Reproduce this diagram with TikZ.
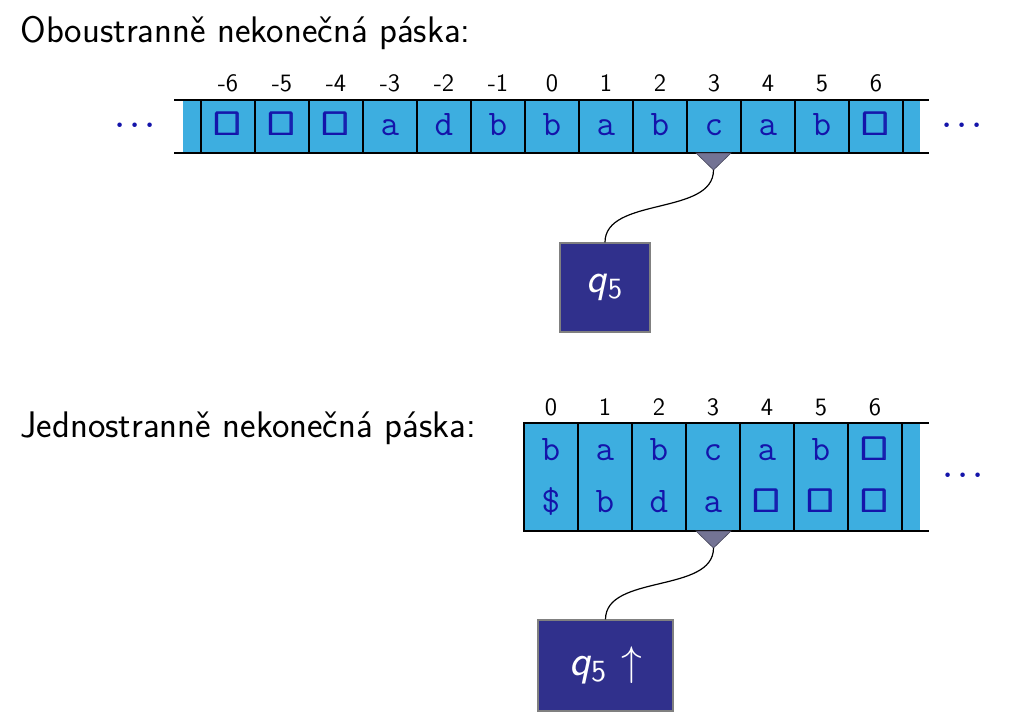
\documentclass[tikz,border=0pt]{standalone}
\usepackage{amssymb}
\usepackage{amsmath}
\usepackage{fontspec}
\definecolor{tapeblue}{RGB}{61,174,224}
\definecolor{symblue}{RGB}{20,20,170}
\definecolor{headgray}{RGB}{115,115,148}
\definecolor{stateblue}{RGB}{48,48,140}
\tikzset{
  titletext/.style={anchor=base west, inner sep=0pt, font=\sffamily\fontsize{18.5}{22}\selectfont},
  idx/.style={anchor=base, inner sep=0pt, font=\sffamily\fontsize{12.5}{15}\selectfont},
  sym/.style={anchor=base, inner sep=0pt, text=symblue, font=\ttfamily\fontsize{18}{21}\selectfont},
  cellbox/.style={draw, line width=0.6pt, inner sep=0pt, minimum width=27pt},
  tapeline/.style={line width=0.6pt},
  headtri/.style={fill=headgray, draw=headgray!60!black, line width=0.3pt},
  statebox/.style={draw=gray, line width=0.6pt, fill=stateblue, text=white, inner sep=0pt},
  dotsnode/.style={inner sep=0pt, text=symblue, font=\fontsize{14}{16}\selectfont},
  wire/.style={line width=0.6pt, looseness=0.9},
}
\newcommand{\blk}{{\fontsize{16.5}{19}\selectfont$\pmb{\square}$}}
\begin{document}
\begin{tikzpicture}[x=0.5pt,y=-0.5pt]
\useasboundingbox (0,0) rectangle (1030,724);

% ---------- top tape ----------
\node[titletext] (t1) at (20,42) {Oboustranně nekonečná páska:};
\fill[tapeblue] (183,100) rectangle (920,153);
\draw[tapeline] (174,100) -- (929,100);
\draw[tapeline] (174,153) -- (929,153);
\foreach \s [count=\k from 0] in {\blk,\blk,\blk,a,d,b,b,a,b,c,a,b,\blk}{
  \pgfmathtruncatemacro{\lab}{\k-6}
  \node[cellbox, minimum height=26.5pt] (c\k) at (228+54*\k,126.5) {};
  \node[idx] (n\k) at (228+54*\k,91) {\lab};
  \node[sym] (v\k) at (228+54*\k,135) {\s};
}
\node[dotsnode] (dl) at (138,126) {$\boldsymbol{\cdots}$};
\node[dotsnode] (dr) at (965,126) {$\boldsymbol{\cdots}$};
\filldraw[headtri] (696,153) -- (731,153) -- (713.5,170) -- cycle;
\coordinate (h1) at (713.5,170);
\node[statebox, minimum width=45pt, minimum height=44.5pt,
      font=\sffamily\fontsize{21}{25}\selectfont] (s1) at (605,287.5)
  {\textit{q}$_{\mathsf{5}}$};
\draw[wire] (h1) to[out=-90,in=90] (s1.north);

% ---------- bottom tape ----------
\node[titletext] (t2) at (20,437) {Jednostranně nekonečná páska:};
\fill[tapeblue] (524,423) rectangle (920,531);
\draw[tapeline] (524,423) -- (929,423);
\draw[tapeline] (524,531) -- (929,531);
\foreach \a/\b [count=\k from 0] in {b/\$,a/b,b/d,c/a,a/\blk,b/\blk,\blk/\blk}{
  \node[cellbox, minimum height=54pt] (d\k) at (551+54*\k,477) {};
  \node[idx] (m\k) at (551+54*\k,415) {\k};
  \node[sym] (u\k) at (551+54*\k,460) {\a};
  \node[sym] (w\k) at (551+54*\k,512) {\b};
}
\node[dotsnode] (dr2) at (966,476) {$\boldsymbol{\cdots}$};
\filldraw[headtri] (696,531) -- (731,531) -- (713.5,548) -- cycle;
\coordinate (h2) at (713.5,548);
\node[statebox, minimum width=67.5pt, minimum height=45.5pt,
      font=\sffamily\fontsize{22}{26}\selectfont] (s2) at (605.5,665.5)
  {\textit{q}$_{\mathsf{5}}$ $\uparrow$};
\draw[wire] (h2) to[out=-90,in=90] (s2.north);
\end{tikzpicture}
\end{document}
